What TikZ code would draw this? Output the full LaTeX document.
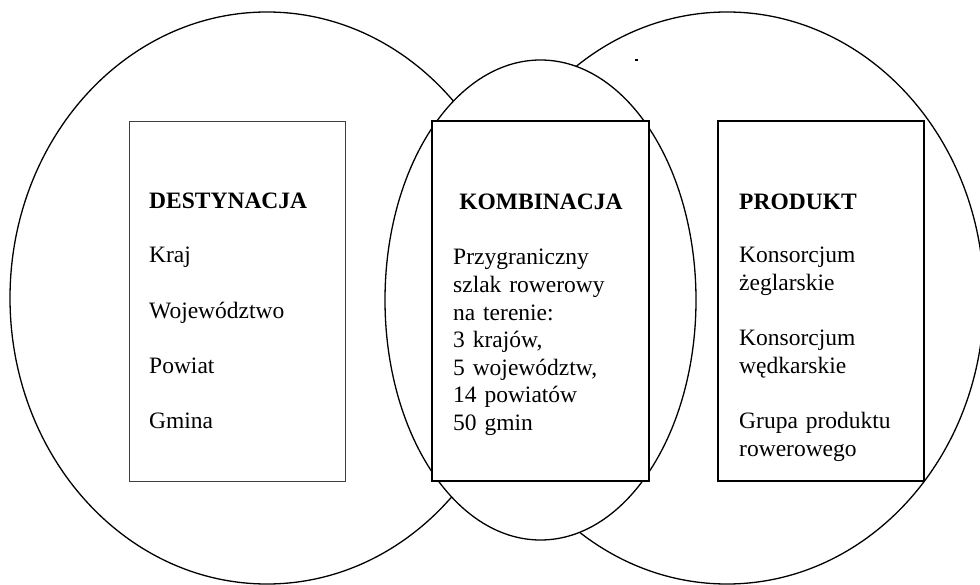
\documentclass[tikz,border=0pt]{standalone}
\usepackage{fontspec}
\setmainfont{Liberation Serif}
\usetikzlibrary{shapes.geometric}
\begin{document}
\begin{tikzpicture}[x=1pt,y=-1pt,
  venn/.style={ellipse, draw, fill=white, line width=1.3pt, inner sep=0pt, outer sep=0pt},
  frame/.style={rectangle, draw, fill=white, line width=1.3pt, inner sep=0pt, minimum height=360pt},
  thinframe/.style={frame, line width=0.8pt, draw=black!75},
  txt/.style={anchor=base west, inner sep=0pt, text width=200pt, align=left,
    font=\fontsize{23.5pt}{27.6pt}\selectfont},
  ttl/.style={inner sep=0pt, font=\fontsize{23.5pt}{27.6pt}\selectfont\bfseries}]
\useasboundingbox (0,0) rectangle (980,585);
\clip (0,0) rectangle (980,585);
\fill[white] (0,0) rectangle (980,585);
% ellipses
\node[venn, minimum width=514pt, minimum height=572pt] (L) at (267,298) {};
\node[venn, minimum width=514pt, minimum height=572pt] (R) at (727,298) {};
\node[venn, minimum width=311pt, minimum height=480pt] (M) at (540.5,300) {};
% boxes
\node[thinframe, minimum width=216pt] (boxL) at (237,301) {};
\node[frame, minimum width=217pt] (boxM) at (540.5,301) {};
\node[frame, minimum width=206pt] (boxR) at (821,301) {};
% texts
\node[ttl, anchor=base west] (tL) at (149,209) {DESTYNACJA};
\node[txt] (bL) at (149,263) {Kraj\\[27.6pt]Województwo\\[27.6pt]Powiat\\[27.6pt]Gmina};
\node[ttl, anchor=base] (tM) at (541,210) {KOMBINACJA};
\node[txt] (bM) at (453,265) {Przygraniczny\\szlak rowerowy\\na terenie:\\3 krajów,\\5 województw,\\14 powiatów\\50 gmin};
\node[ttl, anchor=base west] (tR) at (739,210) {PRODUKT};
\node[txt] (bR) at (739,263) {Konsorcjum\\żeglarskie\\[27.6pt]Konsorcjum\\wędkarskie\\[27.6pt]Grupa produktu\\rowerowego};
% stray dot
\fill (635,59) rectangle (637.5,61.5);
\end{tikzpicture}
\end{document}
